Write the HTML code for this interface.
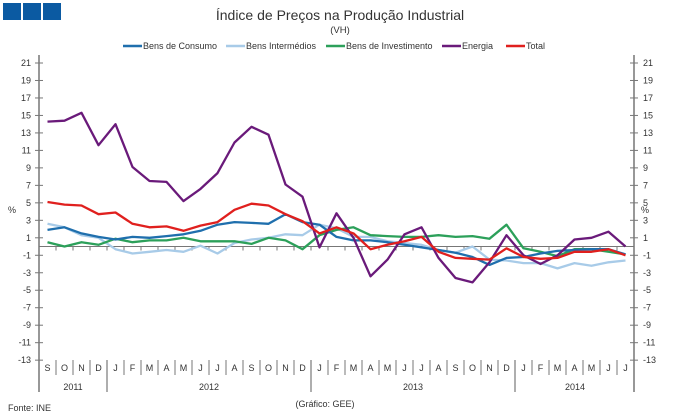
<!DOCTYPE html>
<html><head><meta charset="utf-8"><style>
body{margin:0;background:#fff;}
svg{display:block;font-family:"Liberation Sans",sans-serif;}
</style></head><body>
<svg id="c" width="680" height="418" xmlns="http://www.w3.org/2000/svg">
<rect x="0" y="0" width="680" height="418" fill="#fff"/>
<rect x="3" y="3" width="18" height="17" fill="#0b5aa2"/>
<rect x="23" y="3" width="18" height="17" fill="#0b5aa2"/>
<rect x="43" y="3" width="18" height="17" fill="#0b5aa2"/>
<text x="340" y="20" text-anchor="middle" font-size="14" fill="#333">Índice de Preços na Produção Industrial</text>
<text x="340" y="33" text-anchor="middle" font-size="9.5" fill="#333">(VH)</text>
<g font-size="9" fill="#333">
<line x1="123" y1="46" x2="142" y2="46" stroke="#1f6fad" stroke-width="2.5"/><text x="143" y="49">Bens de Consumo</text>
<line x1="226" y1="46" x2="245" y2="46" stroke="#a8cbe8" stroke-width="2.5"/><text x="246" y="49">Bens Intermédios</text>
<line x1="326" y1="46" x2="345" y2="46" stroke="#2ca05a" stroke-width="2.5"/><text x="346" y="49">Bens de Investimento</text>
<line x1="442" y1="46" x2="461" y2="46" stroke="#6a1a7a" stroke-width="2.5"/><text x="462" y="49">Energia</text>
<line x1="506" y1="46" x2="525" y2="46" stroke="#e0201e" stroke-width="2.5"/><text x="526" y="49">Total</text>
</g>
<text x="8" y="213" font-size="9" fill="#333">%</text>
<text x="641" y="213" font-size="9" fill="#333">%</text>
<text x="8" y="411" font-size="9" fill="#333">Fonte: INE</text>
<text x="325" y="407" text-anchor="middle" font-size="9" fill="#333">(Gráfico: GEE)</text>
<g id="g"></g>
</svg>
<script>
var g=document.getElementById('g'),h='';
function Y(v){return 63+(21-v)*8.74;}
function X(i){return 47.5+17*i;}
h+='<line x1="39" y1="55" x2="39" y2="392" stroke="#777" stroke-width="1.5"/>';
h+='<line x1="634" y1="55" x2="634" y2="392" stroke="#777" stroke-width="1.5"/>';
for(var v=21;v>=-13;v-=2){var y=Y(v);
h+='<line x1="35" y1="'+y+'" x2="43" y2="'+y+'" stroke="#777"/>';
h+='<line x1="630" y1="'+y+'" x2="638" y2="'+y+'" stroke="#777"/>';
h+='<text x="31" y="'+(y+3)+'" text-anchor="end" font-size="9" fill="#333">'+v+'</text>';
h+='<text x="643" y="'+(y+3)+'" font-size="9" fill="#333">'+v+'</text>';}
var y0=Y(0);
h+='<line x1="39" y1="'+y0+'" x2="634" y2="'+y0+'" stroke="#777"/>';
var m="SONDJFMAMJJASONDJFMAMJJASONDJFMAMJJ".split('');
for(var i=0;i<35;i++){var xb=39+17*i;
h+='<line x1="'+xb+'" y1="'+y0+'" x2="'+xb+'" y2="'+(y0+4)+'" stroke="#777"/>';
if(i>0)h+='<line x1="'+xb+'" y1="360" x2="'+xb+'" y2="375" stroke="#777"/>';
h+='<text x="'+X(i)+'" y="371" text-anchor="middle" font-size="9" fill="#333">'+m[i]+'</text>';}
[107,311,515].forEach(function(x){h+='<line x1="'+x+'" y1="360" x2="'+x+'" y2="392" stroke="#777" stroke-width="1.2"/>';});
[[73,'2011'],[209,'2012'],[413,'2013'],[575,'2014']].forEach(function(a){h+='<text x="'+a[0]+'" y="390" text-anchor="middle" font-size="9" fill="#333">'+a[1]+'</text>';});
var S={
'#a8cbe8':[2.6,2.2,1.3,1.0,-0.3,-0.8,-0.6,-0.4,-0.6,0.1,-0.8,0.4,0.8,1.0,1.4,1.3,2.5,2.1,1.1,1.1,0.6,0.4,0.2,-0.4,-0.7,0.0,-1.5,-1.6,-1.9,-1.9,-2.5,-1.9,-2.2,-1.8,-1.6],
'#2ca05a':[0.5,0.0,0.5,0.2,0.9,0.5,0.7,0.7,1.0,0.6,0.6,0.6,0.3,1.0,0.7,-0.3,1.3,1.9,2.2,1.3,1.2,1.1,1.1,1.3,1.1,1.2,0.9,2.5,-0.2,-0.6,-1.1,-0.3,-0.3,-0.6,-0.9],
'#1f6fad':[1.9,2.2,1.5,1.1,0.8,1.1,1.0,1.2,1.4,1.8,2.5,2.8,2.7,2.6,3.7,2.8,2.5,1.1,0.7,0.7,0.5,0.2,-0.1,-0.4,-0.7,-1.2,-2.1,-1.3,-1.2,-0.8,-0.5,-0.4,-0.3,-0.3,-0.9],
'#6a1a7a':[14.3,14.4,15.3,11.6,14.0,9.1,7.5,7.4,5.2,6.6,8.4,11.9,13.7,12.8,7.1,5.7,-0.1,3.8,1.0,-3.4,-1.5,1.4,2.2,-1.3,-3.6,-4.1,-1.8,1.3,-1.0,-2.0,-1.0,0.8,1.0,1.7,0.0],
'#e0201e':[5.1,4.8,4.7,3.7,3.9,2.6,2.2,2.3,1.8,2.4,2.8,4.2,4.9,4.7,3.7,2.9,1.5,2.2,1.5,-0.3,0.2,0.6,1.1,-0.6,-1.3,-1.4,-1.5,-0.2,-1.2,-1.4,-1.3,-0.6,-0.6,-0.3,-1.0]};
for(var c in S){var p=S[c].map(function(v,i){return X(i).toFixed(1)+','+Y(v).toFixed(1);}).join(' ');
h+='<polyline points="'+p+'" fill="none" stroke="'+c+'" stroke-width="2.3" stroke-linejoin="round"/>';}
g.innerHTML=h;
</script>
</body></html>
